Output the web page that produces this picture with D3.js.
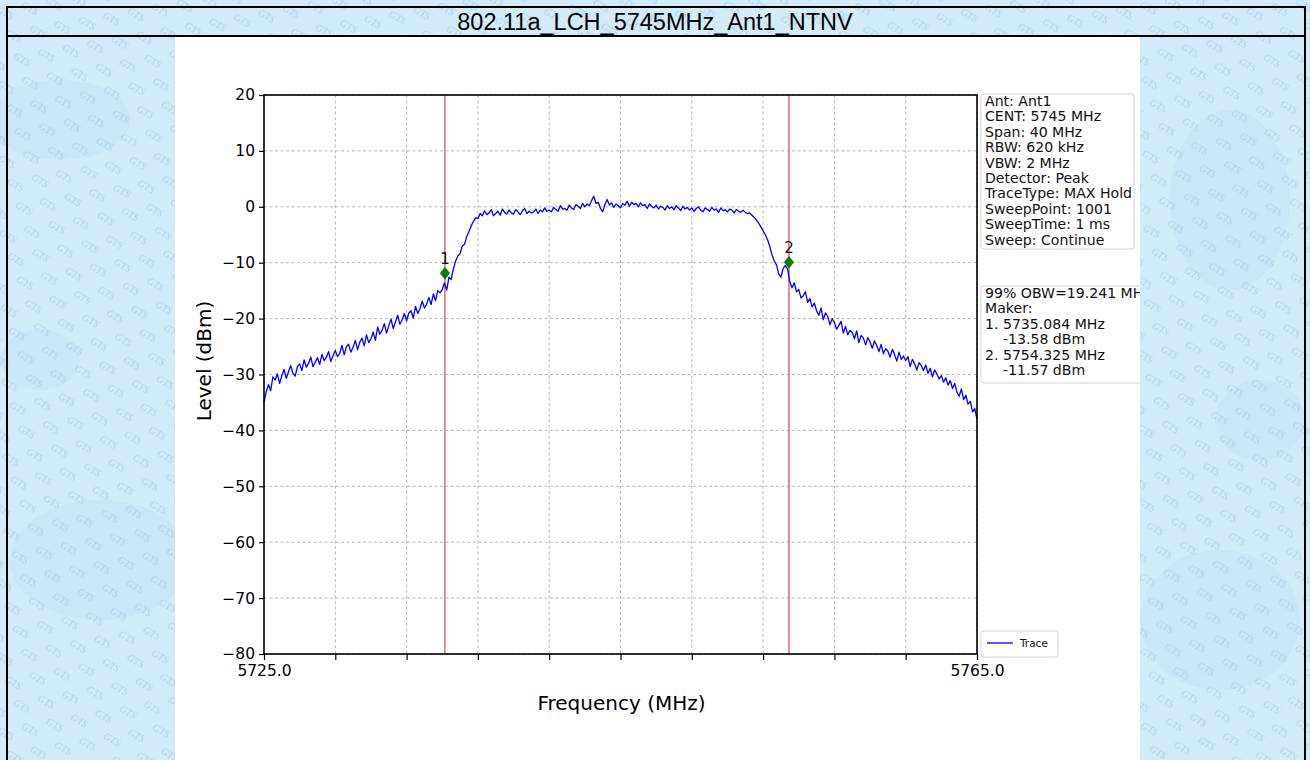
<!DOCTYPE html>
<html>
<head>
<meta charset="utf-8">
<script src="https://cdn.jsdelivr.net/npm/d3@7"></script>
<style>
html,body{margin:0;padding:0;background:#cfeaf8;}
svg{display:block;}
</style>
</head>
<body>
<svg id="chart" width="1310" height="760"></svg>
<script>
// ---------------- data ----------------
const title = "802.11a_LCH_5745MHz_Ant1_NTNV";
const freqStart = 5725.0;
const freqStop = 5765.0;
const freqStep = 0.125; // sweep grid (MHz) of the points
const levels = [
  -35.0, -33.1, -31.8, -32.9, -30.4, -31.0, -29.9, -31.6,
  -30.2, -29.1, -30.7, -29.5, -28.4, -29.8, -30.3, -28.6,
  -28.1, -29.3, -27.4, -28.7, -28.0, -26.9, -28.6, -27.8,
  -27.0, -28.2, -26.4, -27.5, -26.9, -25.9, -27.7, -26.6,
  -25.7, -26.8, -26.2, -24.8, -26.5, -25.0, -24.6, -26.0,
  -25.1, -23.9, -25.6, -24.2, -23.5, -24.9, -22.9, -24.3,
  -23.6, -22.4, -23.9, -21.5, -22.8, -22.1, -20.9, -22.6,
  -21.3, -20.1, -21.8, -20.6, -19.4, -21.0, -20.2, -19.1,
  -20.4, -19.0, -18.6, -19.9, -17.8, -19.1, -18.2, -16.9,
  -18.1, -17.4, -16.2, -17.5, -15.6, -16.8, -15.0, -15.4,
  -14.8, -13.6, -14.9, -12.6, -13.0, -11.1, -9.7, -8.8,
  -8.4, -7.0, -6.7, -5.3, -4.4, -3.4, -2.6, -2.0,
  -2.1, -1.2, -1.6, -0.7, -1.4, -1.1, -0.5, -1.6,
  -1.2, -0.8, -1.5, -0.4, -1.0, -1.3, -0.6, -1.1,
  -1.3, -0.5, -0.9, -1.4, -0.7, -0.3, -1.2, -0.8,
  -1.1, -0.9, -0.4, -1.2, -0.6, -0.9, -0.2, -0.8,
  -0.6, -0.9, -0.1, -0.5, -0.8, 0.2, -0.4, -0.3,
  -0.6, 0.3, -0.2, -0.5, 0.4, 0.1, -0.3, 0.6,
  0.0, 0.5, 0.2, 1.1, 1.9, 0.6, 0.8, -0.3,
  -0.9, 0.4, 1.3, 0.3, 0.7, -0.1, 0.5, 0.2,
  -0.2, 0.6, 0.3, 1.0, 0.1, 0.8, 0.4, 0.6,
  0.0, 0.7, 0.2, 0.4, -0.3, 0.5, 0.1, -0.2,
  0.3, -0.4, 0.1, -0.1, -0.6, 0.2, -0.3, 0.0,
  -0.5, 0.2, -0.2, -0.7, 0.1, -0.4, -0.1, -0.6,
  -0.2, -0.8, -0.3, 0.0, -0.6, -0.9, -0.2, -0.5,
  -0.8, -0.1, -0.6, -0.4, -1.0, -0.2, -0.7, -0.5,
  -0.9, -0.4, -0.6, -1.1, -0.5, -0.8, -1.0, -0.6,
  -1.0, -1.2, -1.1, -1.5, -1.9, -2.4, -2.9, -3.6,
  -4.3, -5.0, -5.9, -7.1, -8.6, -9.7, -10.4, -12.0,
  -12.6, -11.0, -10.5, -11.2, -13.4, -14.5, -13.6, -15.2,
  -14.8, -16.3, -15.9, -15.2, -17.1, -16.4, -17.9, -17.2,
  -18.6, -19.4, -18.1, -20.2, -19.0, -19.6, -21.1, -20.0,
  -20.7, -21.9, -21.2, -20.5, -22.6, -21.4, -22.9, -22.1,
  -22.5, -23.6, -22.2, -24.3, -23.0, -23.5, -24.7, -23.4,
  -24.2, -25.3, -24.0, -24.8, -25.9, -24.6, -26.3, -25.4,
  -25.8, -26.9, -25.5, -26.4, -27.6, -26.0, -27.3, -26.7,
  -27.5, -26.8, -28.6, -27.3, -28.1, -29.2, -27.9, -28.4,
  -29.3, -28.3, -29.8, -28.9, -30.4, -29.2, -29.9, -30.8,
  -30.2, -31.4, -30.6, -31.9, -31.1, -32.5, -31.6, -33.2,
  -33.9, -32.6, -34.5, -33.7, -35.3, -34.8, -36.7, -36.1,
  -38.0
];
const markerIds = ["1", "2"];
const markerFreqs = [5735.15, 5754.45];
const markerDrawLevels = [-11.9, -9.9];
const obwLines = [5735.15, 5754.45];
const yTicks = [20, 10, 0, -10, -20, -30, -40, -50, -60, -70, -80];
const xTicks = [5725, 5729, 5733, 5737, 5741, 5745, 5749, 5753, 5757, 5761, 5765];
const xTickLabels = ["5725.0", "", "", "", "", "", "", "", "", "", "5765.0"];
const infoLines = ["Ant: Ant1", "CENT: 5745 MHz", "Span: 40 MHz", "RBW: 620 kHz", "VBW: 2 MHz",
  "Detector: Peak", "TraceType: MAX Hold", "SweepPoint: 1001", "SweepTime: 1 ms", "Sweep: Continue"];
const obwLinesText = ["99% OBW=19.241 MHz", "Maker:", "1. 5735.084 MHz", "    -13.58 dBm",
  "2. 5754.325 MHz", "    -11.57 dBm"];
const legendLabel = "Trace";

// ---------------- drawing ----------------
const svg = d3.select("#chart");
const W = 1310, H = 760;
const defs = svg.append("defs");

// watermark pattern
const pat = defs.append("pattern").attr("id", "gts").attr("patternUnits", "userSpaceOnUse")
  .attr("width", 38).attr("height", 32).attr("patternTransform", "rotate(30)");
[[2, 12], [21, 28]].forEach(p => {
  pat.append("text").attr("x", p[0]).attr("y", p[1]).text("GTS")
    .attr("font-family", "Liberation Serif, serif").attr("font-style", "italic")
    .attr("font-size", 10).attr("fill", "#8db8d4").attr("opacity", 0.55);
});

svg.append("rect").attr("width", W).attr("height", H).attr("fill", "#d2ecfa");
// faint map blotches
const blobs = [[60, 120, 70, 40], [1230, 200, 60, 90], [100, 560, 90, 60], [1220, 620, 80, 70], [40, 360, 40, 30], [1260, 420, 45, 40]];
svg.append("g").selectAll("ellipse").data(blobs).join("ellipse")
  .attr("cx", d => d[0]).attr("cy", d => d[1]).attr("rx", d => d[2]).attr("ry", d => d[3])
  .attr("fill", "#c3e2f4").attr("opacity", 0.5);
svg.append("rect").attr("width", W).attr("height", H).attr("fill", "url(#gts)");

// white figure area
svg.append("rect").attr("x", 175).attr("y", 37).attr("width", 965).attr("height", H - 37).attr("fill", "#ffffff");

// frame
const frame = svg.append("g").attr("stroke", "#000").attr("stroke-width", 2);
frame.append("line").attr("x1", 7).attr("x2", 1305).attr("y1", 7).attr("y2", 7);
frame.append("line").attr("x1", 7).attr("x2", 1305).attr("y1", 36).attr("y2", 36);
frame.append("line").attr("x1", 7).attr("x2", 7).attr("y1", 6).attr("y2", H);
frame.append("line").attr("x1", 1305).attr("x2", 1305).attr("y1", 6).attr("y2", H);

svg.append("text").attr("x", 655).attr("y", 30).attr("text-anchor", "middle")
  .attr("font-family", "Liberation Sans, Arial, sans-serif").attr("font-size", 23.5)
  .attr("fill", "#000").text(title);

// plot
const L = 264, R = 977, T = 95, B = 654;
const x = d3.scaleLinear().domain([freqStart, freqStop]).range([L, R]);
const y = d3.scaleLinear().domain([-80, 20]).range([B, T]);
const font = "DejaVu Sans, sans-serif";

const grid = svg.append("g").attr("stroke", "#b0b0b0").attr("stroke-width", 0.9).attr("stroke-dasharray", "3,2.5");
grid.selectAll("line.v").data(xTicks).join("line").attr("class", "v")
  .attr("x1", d => x(d)).attr("x2", d => x(d)).attr("y1", T).attr("y2", B);
grid.selectAll("line.h").data(yTicks).join("line").attr("class", "h")
  .attr("y1", d => y(d)).attr("y2", d => y(d)).attr("x1", L).attr("x2", R);

// OBW red lines
svg.append("g").selectAll("line").data(obwLines).join("line")
  .attr("x1", d => x(d)).attr("x2", d => x(d)).attr("y1", T).attr("y2", B)
  .attr("stroke", "#e06a6a").attr("stroke-width", 1.5);

// trace
const pts = levels.map((v, i) => [freqStart + i * freqStep, v]);
const line = d3.line().x(d => x(d[0])).y(d => y(d[1]));
svg.append("path").datum(pts).attr("d", line).attr("fill", "none")
  .attr("stroke", "#0000ff").attr("stroke-width", 1.3).attr("stroke-linejoin", "round");

// markers
const mk = svg.append("g");
markerFreqs.forEach((f, i) => {
  const cx = x(f), cy = y(markerDrawLevels[i]);
  mk.append("path").attr("d", "M0,-6.5L5,0L0,6.5L-5,0Z")
    .attr("transform", `translate(${cx},${cy})`).attr("fill", "#0a7d0a");
  mk.append("text").attr("x", cx).attr("y", cy - 9).attr("text-anchor", "middle")
    .attr("font-family", font).attr("font-size", 15).attr("fill", "#111").text(markerIds[i]);
});

// axes
const fmt = d => (d < 0 ? "\u2212" + Math.abs(d) : String(d));
const yAxis = svg.append("g").attr("transform", `translate(${L},0)`)
  .call(d3.axisLeft(y).tickValues(yTicks).tickFormat(fmt).tickSize(5).tickPadding(4));
const xAxis = svg.append("g").attr("transform", `translate(0,${B})`)
  .call(d3.axisBottom(x).tickValues(xTicks).tickFormat((d, i) => xTickLabels[i]).tickSize(6).tickPadding(5));
[yAxis, xAxis].forEach(a => {
  a.select(".domain").remove();
  a.selectAll("line").attr("stroke", "#000").attr("stroke-width", 1.2);
  a.selectAll("text").attr("font-family", font).attr("font-size", 15.5).attr("fill", "#000");
});
svg.append("rect").attr("x", L).attr("y", T).attr("width", R - L).attr("height", B - T)
  .attr("fill", "none").attr("stroke", "#000").attr("stroke-width", 1.6);

svg.append("text").attr("x", (L + R) / 2 + 1).attr("y", 710).attr("text-anchor", "middle")
  .attr("font-family", font).attr("font-size", 20).attr("fill", "#000").text("Frequency (MHz)");
svg.append("text").attr("transform", `translate(211,361) rotate(-90)`).attr("text-anchor", "middle")
  .attr("font-family", font).attr("font-size", 20).attr("fill", "#000").text("Level (dBm)");

// info boxes (clipped to figure)
defs.append("clipPath").attr("id", "figclip").append("rect")
  .attr("x", 175).attr("y", 37).attr("width", 965).attr("height", H - 37);
const boxes = svg.append("g").attr("clip-path", "url(#figclip)");
function textBox(x0, y0, w, h, lines) {
  boxes.append("rect").attr("x", x0).attr("y", y0).attr("width", w).attr("height", h)
    .attr("rx", 3).attr("fill", "#fff").attr("stroke", "#d4d4d4").attr("stroke-width", 1);
  boxes.append("g").selectAll("text").data(lines).join("text")
    .attr("x", x0 + 4).attr("y", (d, i) => y0 + 12 + i * 15.4)
    .attr("font-family", font).attr("font-size", 14.1).attr("fill", "#111")
    .attr("xml:space", "preserve").style("white-space", "pre").text(d => d);
}
textBox(981, 94, 153, 155, infoLines);
textBox(981, 286, 180, 97, obwLinesText);

// legend
const lg = svg.append("g");
lg.append("rect").attr("x", 981).attr("y", 631).attr("width", 77).attr("height", 26).attr("rx", 3)
  .attr("fill", "#fff").attr("stroke", "#d4d4d4");
lg.append("line").attr("x1", 987).attr("x2", 1013).attr("y1", 643).attr("y2", 643)
  .attr("stroke", "#0000ff").attr("stroke-width", 1.3);
lg.append("text").attr("x", 1020).attr("y", 647).attr("font-family", font).attr("font-size", 10.5)
  .attr("fill", "#111").text(legendLabel);
</script>
</body>
</html>
